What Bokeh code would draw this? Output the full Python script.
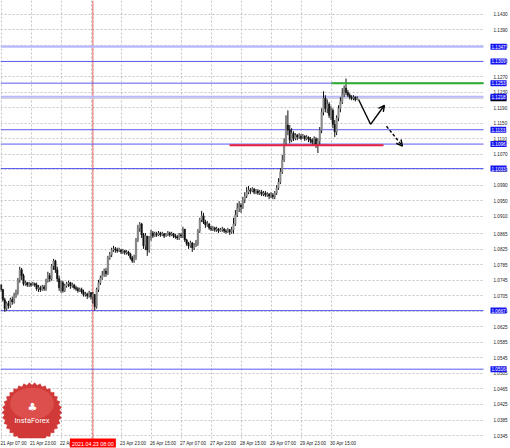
import math
from bokeh.plotting import figure
from bokeh.models import (Range1d, FixedTicker, Label, Arrow, OpenHead,
                          PrintfTickFormatter, ColumnDataSource)
from bokeh.embed import file_html
from bokeh.resources import INLINE
from bokeh.core.properties import value

# ---------------- data (EUR/USD H1) ----------------
first_open = 1.0733
close = [1.0721, 1.0695, 1.0672, 1.0685, 1.0680, 1.0695, 1.0690, 1.0705, 1.0713, 1.0746,
         1.0772, 1.0757, 1.0736, 1.0739, 1.0733, 1.0736, 1.0733, 1.0736, 1.0733, 1.0723,
         1.0726, 1.0721, 1.0728, 1.0723, 1.0744, 1.0757, 1.0749, 1.0782, 1.0795, 1.0772,
         1.0749, 1.0726, 1.0739, 1.0718, 1.0731, 1.0736, 1.0739, 1.0731, 1.0733, 1.0726,
         1.0723, 1.0718, 1.0721, 1.0715, 1.0708, 1.0710, 1.0705, 1.0713, 1.0703, 1.0708,
         1.0677, 1.0721, 1.0739, 1.0751, 1.0759, 1.0769, 1.0762, 1.0803, 1.0811, 1.0823,
         1.0826, 1.0823, 1.0821, 1.0823, 1.0818, 1.0821, 1.0816, 1.0818, 1.0813, 1.0803,
         1.0795, 1.0803, 1.0849, 1.0880, 1.0890, 1.0862, 1.0834, 1.0859, 1.0823, 1.0854,
         1.0867, 1.0859, 1.0865, 1.0862, 1.0867, 1.0862, 1.0865, 1.0859, 1.0862, 1.0867,
         1.0862, 1.0865, 1.0859, 1.0857, 1.0854, 1.0862, 1.0859, 1.0877, 1.0849, 1.0839,
         1.0834, 1.0841, 1.0829, 1.0836, 1.0839, 1.0872, 1.0901, 1.0911, 1.0895, 1.0888,
         1.0890, 1.0880, 1.0877, 1.0880, 1.0875, 1.0877, 1.0872, 1.0875, 1.0877, 1.0872,
         1.0870, 1.0875, 1.0870, 1.0875, 1.0890, 1.0913, 1.0931, 1.0939, 1.0934, 1.0952,
         1.0962, 1.0972, 1.0978, 1.0975, 1.0980, 1.0972, 1.0975, 1.0970, 1.0972, 1.0967,
         1.0970, 1.0965, 1.0967, 1.0962, 1.0965, 1.0960, 1.0970, 1.0983, 1.0998, 1.1024,
         1.1055, 1.1101, 1.1145, 1.1132, 1.1106, 1.1124, 1.1111, 1.1119, 1.1114, 1.1116,
         1.1111, 1.1116, 1.1109, 1.1114, 1.1109, 1.1106, 1.1101, 1.1109, 1.1096, 1.1104,
         1.1132, 1.1178, 1.1214, 1.1188, 1.1199, 1.1170, 1.1183, 1.1147, 1.1127, 1.1163,
         1.1188, 1.1206, 1.1224, 1.1240, 1.1229, 1.1222, 1.1217, 1.1214, 1.1217, 1.1211,
         1.1214]
high = [1.0736, 1.0723, 1.0700, 1.0690, 1.0692, 1.0700, 1.0703, 1.0713, 1.0721, 1.0751,
        1.0780, 1.0777, 1.0762, 1.0744, 1.0741, 1.0741, 1.0739, 1.0741, 1.0739, 1.0739,
        1.0733, 1.0731, 1.0733, 1.0733, 1.0749, 1.0767, 1.0764, 1.0787, 1.0800, 1.0798,
        1.0780, 1.0757, 1.0744, 1.0744, 1.0736, 1.0741, 1.0744, 1.0741, 1.0739, 1.0736,
        1.0731, 1.0728, 1.0726, 1.0726, 1.0721, 1.0715, 1.0713, 1.0718, 1.0715, 1.0715,
        1.0710, 1.0726, 1.0746, 1.0757, 1.0769, 1.0775, 1.0777, 1.0808, 1.0818, 1.0829,
        1.0834, 1.0831, 1.0829, 1.0829, 1.0826, 1.0826, 1.0823, 1.0823, 1.0821, 1.0816,
        1.0808, 1.0811, 1.0854, 1.0888, 1.0895, 1.0893, 1.0867, 1.0867, 1.0859, 1.0859,
        1.0875, 1.0872, 1.0870, 1.0870, 1.0872, 1.0870, 1.0870, 1.0867, 1.0867, 1.0872,
        1.0870, 1.0870, 1.0867, 1.0865, 1.0862, 1.0867, 1.0867, 1.0883, 1.0877, 1.0852,
        1.0844, 1.0847, 1.0844, 1.0841, 1.0849, 1.0877, 1.0906, 1.0924, 1.0919, 1.0901,
        1.0898, 1.0893, 1.0885, 1.0885, 1.0883, 1.0883, 1.0880, 1.0880, 1.0883, 1.0880,
        1.0877, 1.0880, 1.0877, 1.0883, 1.0906, 1.0926, 1.0944, 1.0949, 1.0944, 1.0960,
        1.0972, 1.0985, 1.0988, 1.0983, 1.0985, 1.0983, 1.0980, 1.0980, 1.0978, 1.0978,
        1.0975, 1.0975, 1.0972, 1.0970, 1.0972, 1.0970, 1.0975, 1.0990, 1.1008, 1.1034,
        1.1068, 1.1111, 1.1170, 1.1183, 1.1145, 1.1137, 1.1129, 1.1124, 1.1122, 1.1124,
        1.1122, 1.1122, 1.1119, 1.1119, 1.1116, 1.1114, 1.1111, 1.1116, 1.1114, 1.1111,
        1.1140, 1.1188, 1.1232, 1.1222, 1.1211, 1.1204, 1.1193, 1.1188, 1.1158, 1.1170,
        1.1196, 1.1217, 1.1240, 1.1247, 1.1265, 1.1235, 1.1227, 1.1222, 1.1222, 1.1219,
        1.1219]
low = [1.0715, 1.0690, 1.0664, 1.0667, 1.0672, 1.0674, 1.0682, 1.0685, 1.0700, 1.0708,
       1.0739, 1.0746, 1.0731, 1.0731, 1.0728, 1.0728, 1.0728, 1.0731, 1.0728, 1.0718,
       1.0715, 1.0715, 1.0718, 1.0718, 1.0718, 1.0739, 1.0741, 1.0744, 1.0772, 1.0764,
       1.0741, 1.0718, 1.0713, 1.0713, 1.0715, 1.0726, 1.0728, 1.0723, 1.0726, 1.0721,
       1.0718, 1.0713, 1.0715, 1.0710, 1.0703, 1.0703, 1.0697, 1.0700, 1.0695, 1.0685,
       1.0667, 1.0672, 1.0715, 1.0733, 1.0746, 1.0754, 1.0754, 1.0759, 1.0798, 1.0805,
       1.0818, 1.0816, 1.0816, 1.0818, 1.0813, 1.0813, 1.0811, 1.0811, 1.0808, 1.0798,
       1.0790, 1.0790, 1.0798, 1.0844, 1.0870, 1.0854, 1.0826, 1.0823, 1.0808, 1.0816,
       1.0847, 1.0854, 1.0857, 1.0857, 1.0859, 1.0857, 1.0859, 1.0854, 1.0857, 1.0859,
       1.0857, 1.0859, 1.0854, 1.0852, 1.0849, 1.0849, 1.0854, 1.0854, 1.0844, 1.0834,
       1.0826, 1.0829, 1.0818, 1.0823, 1.0831, 1.0834, 1.0867, 1.0895, 1.0890, 1.0880,
       1.0883, 1.0875, 1.0872, 1.0872, 1.0870, 1.0870, 1.0867, 1.0870, 1.0870, 1.0867,
       1.0865, 1.0867, 1.0862, 1.0865, 1.0865, 1.0885, 1.0908, 1.0921, 1.0919, 1.0929,
       1.0944, 1.0957, 1.0967, 1.0967, 1.0972, 1.0967, 1.0967, 1.0965, 1.0965, 1.0962,
       1.0962, 1.0960, 1.0960, 1.0954, 1.0957, 1.0954, 1.0954, 1.0965, 1.0978, 1.0993,
       1.1019, 1.1050, 1.1093, 1.1119, 1.1098, 1.1101, 1.1104, 1.1106, 1.1106, 1.1109,
       1.1106, 1.1109, 1.1104, 1.1106, 1.1101, 1.1098, 1.1091, 1.1093, 1.1086, 1.1073,
       1.1093, 1.1124, 1.1170, 1.1178, 1.1176, 1.1163, 1.1158, 1.1137, 1.1114, 1.1119,
       1.1155, 1.1178, 1.1199, 1.1217, 1.1222, 1.1217, 1.1211, 1.1209, 1.1209, 1.1206,
       1.1209]

time_tick_bars = [0, 16, 32, 48, 64, 80, 96, 112, 128, 144, 160, 176]
time_tick_labels = ["21 Apr 07:00", "21 Apr 23:00", "22 Apr 15:00", "23 Apr 07:00",
                    "23 Apr 23:00", "26 Apr 15:00", "27 Apr 07:00", "27 Apr 23:00",
                    "28 Apr 15:00", "29 Apr 07:00", "29 Apr 23:00", "30 Apr 15:00"]
price_ticks = [1.1430, 1.1390, 1.1350, 1.1310, 1.1270, 1.1230, 1.1190, 1.1150, 1.1110,
               1.1070, 1.1030, 1.0990, 1.0950, 1.0910, 1.0865, 1.0825, 1.0785, 1.0745,
               1.0705, 1.0665, 1.0625, 1.0585, 1.0545, 1.0505, 1.0465, 1.0425, 1.0385,
               1.0345]

levels_main = [1.1309, 1.1253, 1.1133, 1.1096, 1.1033, 1.0667, 1.0516]
levels_light = [1.1347, 1.1218]
green_level = [1.1253]
green_from_bar = [176.3]
red_level = [1.1093]
red_from_bar = [121.9]
red_to_bar = [204.0]
crosshair_bar = 49
crosshair_text = "2021.04.23 08:00"

# forecast arrows (bar index, price)
arrow_solid_x = [190.7, 197.1, 204.5]
arrow_solid_y = [1.1211, 1.1147, 1.1196]
arrow_dash_x = [205.6, 214.1]
arrow_dash_y = [1.1142, 1.1091]

# ---------------- layout ----------------
W, H = 510, 448
PX_PER_BAR = 1.875
CHART_W = 483          # price chart area (the price scale sits to its right)
CHART_H = 439          # time scale sits below
X_START = -0.5 / PX_PER_BAR
PRICE_TOP = 1.1466
PRICE_PER_PX = 0.0002571
x_chart_end = X_START + CHART_W / PX_PER_BAR
x_end = X_START + W / PX_PER_BAR
y_chart_bottom = PRICE_TOP - CHART_H * PRICE_PER_PX
y_bottom = PRICE_TOP - H * PRICE_PER_PX

def px_to_x(px):
    return X_START + px / PX_PER_BAR

def py_to_y(py):
    return PRICE_TOP - py * PRICE_PER_PX

p = figure(width=W, height=H, x_range=Range1d(X_START, x_end),
           y_range=Range1d(y_bottom, PRICE_TOP), y_axis_location="right",
           toolbar_location=None, output_backend="svg",
           min_border_left=0, min_border_top=0, min_border_right=0,
           min_border_bottom=0)
p.outline_line_color = None
p.background_fill_color = "white"
p.border_fill_color = "white"

# grid, limited to the chart area
p.xgrid.ticker = FixedTicker(ticks=time_tick_bars)
p.ygrid.ticker = FixedTicker(ticks=price_ticks)
p.xgrid.cross_bounds = (y_chart_bottom, PRICE_TOP)
p.ygrid.cross_bounds = (X_START, x_chart_end)
for g in (p.xgrid, p.ygrid):
    g.grid_line_color = "#c4c4c4"
    g.grid_line_dash = "2 2"
    g.grid_line_width = 1

# time axis (labels drawn just under the chart area)
LABEL_SHIFT = 6.5
p.xaxis.ticker = FixedTicker(ticks=[b + LABEL_SHIFT for b in time_tick_bars])
p.xaxis.major_label_overrides = {b + LABEL_SHIFT: t for b, t in zip(time_tick_bars, time_tick_labels)}
p.xaxis.major_tick_out = 0
p.xaxis.major_tick_in = 0
p.xaxis.minor_tick_out = 0
p.xaxis.minor_tick_in = 0
p.xaxis.major_label_standoff = -7
p.xaxis.major_label_text_font_size = "4.6px"
p.xaxis.major_label_text_font = "Liberation Sans"
p.xaxis.major_label_text_color = "#222222"
p.xaxis.axis_line_color = None

# price axis (labels drawn just right of the chart area)
p.yaxis.ticker = FixedTicker(ticks=price_ticks)
p.yaxis.formatter = PrintfTickFormatter(format="%.4f")
p.yaxis.major_tick_out = 0
p.yaxis.major_tick_in = 0
p.yaxis.minor_tick_out = 0
p.yaxis.minor_tick_in = 0
p.yaxis.major_label_standoff = -17
p.yaxis.major_label_text_font_size = "4.6px"
p.yaxis.major_label_text_font = "Liberation Sans"
p.yaxis.major_label_text_color = "#222222"
p.yaxis.axis_line_color = None

# crosshair
p.segment(x0=[crosshair_bar], y0=[y_bottom], x1=[crosshair_bar], y1=[PRICE_TOP],
          line_color="#e35d5d", line_width=1)

# horizontal levels (drawn under the candles)
n_light = len(levels_light)
p.segment(x0=[X_START] * n_light, y0=levels_light, x1=[x_chart_end] * n_light, y1=levels_light,
          line_color="#b8b8ff", line_width=2.2)
n_main = len(levels_main)
p.segment(x0=[X_START] * n_main, y0=levels_main, x1=[x_chart_end] * n_main, y1=levels_main,
          line_color="#5a5af2", line_width=1)
# bid line
p.segment(x0=[X_START], y0=[close[-1]], x1=[x_chart_end], y1=[close[-1]],
          line_color="#c8c8c8", line_width=1)

# candles
opens = [first_open] + close[:-1]
bars = list(range(len(close)))
bull = [c >= o for o, c in zip(opens, close)]
src = ColumnDataSource(dict(
    x=bars, o=opens, c=close, h=high, l=low,
    top=[max(o, c) for o, c in zip(opens, close)],
    bot=[min(o, c) for o, c in zip(opens, close)],
    col=["#8a8a8a" if b else "#111111" for b in bull]))
p.segment(x0="x", y0="l", x1="x", y1="h", source=src, line_color="#111111", line_width=1)
p.vbar(x="x", width=0.8, top="top", bottom="bot", source=src,
       fill_color="col", line_color="col", line_width=0.5)

# analyst lines
p.segment(x0=green_from_bar, y0=green_level, x1=[x_chart_end] * len(green_level), y1=green_level,
          line_color="#2eae2e", line_width=2)
p.segment(x0=red_from_bar, y0=red_level, x1=red_to_bar, y1=red_level,
          line_color="#e8203c", line_width=2)

# arrows
p.line(arrow_solid_x[:2], arrow_solid_y[:2], line_color="black", line_width=1.4)
p.add_layout(Arrow(end=OpenHead(size=6, line_color="black", line_width=1.4),
                   x_start=arrow_solid_x[1], y_start=arrow_solid_y[1],
                   x_end=arrow_solid_x[2], y_end=arrow_solid_y[2],
                   line_color="black", line_width=1.4))
p.add_layout(Arrow(end=OpenHead(size=6, line_color="black", line_width=1.4),
                   x_start=arrow_dash_x[0], y_start=arrow_dash_y[0],
                   x_end=arrow_dash_x[1], y_end=arrow_dash_y[1],
                   line_color="black", line_width=1.4, line_dash="3 2"))

# logo (seal), cut at the bottom edge of the chart area
cx, cy, r_out, r_in, n = 31.5, 413, 30, 27.5, 34
xs, ys = [], []
for k in range(2 * n):
    r = r_out if k % 2 == 0 else r_in
    a = math.pi * k / n
    xs.append(px_to_x(cx + r * math.cos(a)))
    ys.append(py_to_y(min(cy + r * math.sin(a), CHART_H - 0.5)))
p.patch(xs, ys, fill_color="#d13838", line_color="#cc3434", line_width=0.5)
p.ellipse(x=[px_to_x(cx)], y=[py_to_y(cy - 9)], width=44 / PX_PER_BAR,
          height=32 * PRICE_PER_PX, fill_color="#f07a72", line_color=None, fill_alpha=0.35)
p.text(x=[px_to_x(cx + 0.5)], y=[py_to_y(cy - 5)], text=["\u2663"], text_color="white",
       text_font=value("DejaVu Sans"), text_font_size="11px",
       text_align="center", text_baseline="middle")
p.text(x=[px_to_x(cx)], y=[py_to_y(cy + 8)], text=["InstaForex"], text_color="white",
       text_font=value("Roboto"), text_font_size="7.5px",
       text_align="center", text_baseline="middle")

# boxed price labels on the price scale
def price_box(price, color):
    p.add_layout(Label(x=x_chart_end, y=price, x_offset=7, text=f"{price:.4f}",
                       text_font="Liberation Sans", text_font_size="4.6px",
                       text_color="white", text_align="left", text_baseline="middle",
                       background_fill_color=color, padding=1))

price_box(close[-1], "#000000")
for lv in levels_light + levels_main:
    price_box(lv, "#1414f0")

# time label of the crosshair
p.add_layout(Label(x=crosshair_bar, y=y_chart_bottom, y_offset=-5, text=crosshair_text,
                   text_font="Liberation Sans", text_font_size="5.4px",
                   text_color="white", text_align="center", text_baseline="middle",
                   background_fill_color="#ff0000", padding=2))

open("out.html", "w").write(file_html(p, INLINE))
